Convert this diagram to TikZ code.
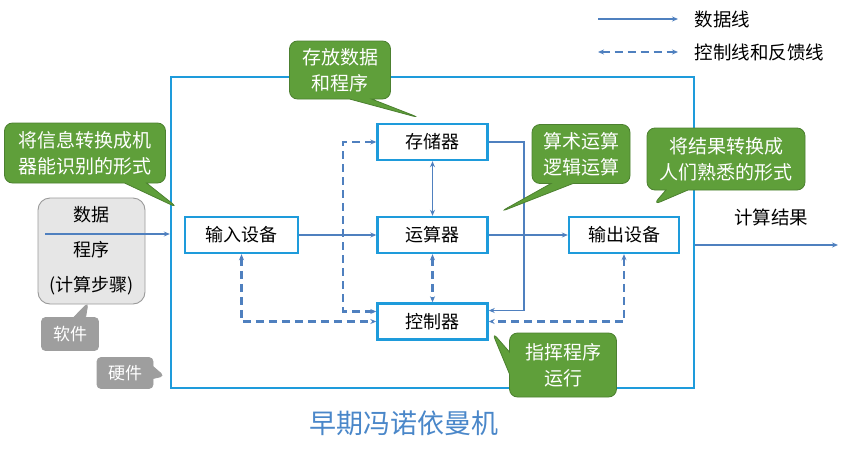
\documentclass[tikz,border=0pt]{standalone}
\usepackage{fontspec}
\setmainfont{Noto Sans CJK SC}
\usetikzlibrary{arrows.meta,shapes.callouts}
\definecolor{VNFrame}{HTML}{1E9BDB}
\definecolor{VNLine}{HTML}{4F80BF}
\definecolor{VNTitle}{HTML}{4A87C9}
\definecolor{VNGreen}{HTML}{5F9F3A}
\definecolor{VNGreenEdge}{HTML}{4C8030}
\definecolor{VNGray}{HTML}{9E9E9E}
\definecolor{VNSoft}{HTML}{E6E6E6}
\definecolor{VNSoftEdge}{HTML}{9A9A9A}
\tikzset{
  flow/.style={-{Stealth[length=6pt,width=5pt]},VNLine,line width=1.8pt},
  flowboth/.style={flow,{Stealth[length=6pt,width=5pt]}-{Stealth[length=6pt,width=5pt]}},
  flowdash/.style={flowboth,line width=2.2pt,dash pattern=on 8pt off 5pt},
  frame/.style={draw=VNFrame,line width=2.4pt},
  unit/.style={draw=VNFrame,line width=2.4pt,fill=white,minimum width=110pt,
               minimum height=36pt,font=\fontsize{18}{22}\selectfont},
  softbox/.style={draw=VNSoftEdge,line width=0.9pt,fill=VNSoft,rounded corners=12pt,
                  minimum width=107pt,minimum height=106pt,align=center,
                  font=\fontsize{18}{35}\selectfont},
  note/.style={rectangle callout,fill=VNGreen,draw=VNGreenEdge,line width=0.8pt,
               rounded corners=8pt,text=white,align=center,inner sep=0pt,
               callout pointer width=22pt,font=\fontsize{19}{26}\selectfont},
  notegray/.style={note,fill=VNGray,draw=VNGray,callout pointer width=12pt,
                   rounded corners=4pt,font=\fontsize{17}{20}\selectfont},
  caption/.style={font=\fontsize{18.5}{22}\selectfont},
}
\begin{document}
\begin{tikzpicture}[x=1pt,y=-1pt]
  \useasboundingbox (0,0) rectangle (848,455);
  % machine frame and its five units
  \node[frame,minimum width=523pt,minimum height=311pt] (vn) at (432.5,232.5) {};
  \node[unit,minimum width=113pt] (in) at (241.5,235) {输入设备};
  \node[unit] (mem) at (432.5,142) {存储器};
  \node[unit] (alu) at (432.5,235) {运算器};
  \node[unit] (ctrl) at (432.5,321.5) {控制器};
  \node[unit] (out) at (624,235) {输出设备};

  \node[softbox] (soft) at (91.5,251) {数据\\程序\\(计算步骤)};

  % data lines
  \coordinate (src) at (45,234);
  \draw[flow] (src) -- (src -| vn.west);
  \draw[flow] (in) -- (alu);
  \draw[flow] (alu) -- (out);
  \draw[flowboth] (mem) -- (alu);
  \draw[flow] (mem.east) -- ++(35,0) |- ([yshift=11pt]ctrl.east);
  \coordinate (res) at (838,245);
  \draw[flow] (res -| vn.east) -- (res);
  \node[caption] (restext) at (771,217) {计算结果};

  % control and feedback lines
  \draw[flowdash] ([yshift=10pt]ctrl.west) -- ++(-33,0) |- (mem.west);
  \draw[flowdash] (alu) -- (ctrl);
  \draw[flowdash] (in.south) |- (ctrl.west);
  \draw[flowdash] (out.south) |- (ctrl.east);

  % legend
  \coordinate (lga) at (598,19);
  \coordinate (lgb) at (678,19);
  \coordinate (lgc) at (598,52);
  \coordinate (lgd) at (678,52);
  \draw[flow] (lga) -- (lgb);
  \draw[flowdash] (lgc) -- (lgd);
  \node[caption,anchor=west] (lgdata) at (691,19) {数据线};
  \node[caption,anchor=west] (lgctrl) at (691,52) {控制线和反馈线};

  % callouts
  \node[note,minimum width=101pt,minimum height=58pt,callout absolute pointer={(420,118)}]
    (memnote) at (340,70) {存放数据\\和程序};
  \node[note,minimum width=161pt,minimum height=60pt,callout absolute pointer={(178,208)}]
    (innote) at (85,153) {将信息转换成机\\器能识别的形式};
  \node[note,minimum width=98pt,minimum height=59pt,callout absolute pointer={(500,212)}]
    (alunote) at (581,154) {算术运算\\逻辑运算};
  \node[note,minimum width=158pt,minimum height=62pt,callout absolute pointer={(653,205)}]
    (outnote) at (726,159) {将结果转换成\\人们熟悉的形式};
  \node[note,minimum width=107pt,minimum height=64pt,callout absolute pointer={(492,332)}]
    (ctrlnote) at (563,365) {指挥程序\\运行};
  \node[notegray,minimum width=57pt,minimum height=33pt,callout absolute pointer={(88,303)}]
    (swnote) at (70,334) {软件};
  \node[notegray,minimum width=56pt,minimum height=31pt,callout absolute pointer={(164,376)}]
    (hwnote) at (125,373) {硬件};

  \node[text=VNTitle,font=\fontsize{27}{32}\selectfont] (title) at (404,423) {早期冯诺依曼机};
\end{tikzpicture}
\end{document}
